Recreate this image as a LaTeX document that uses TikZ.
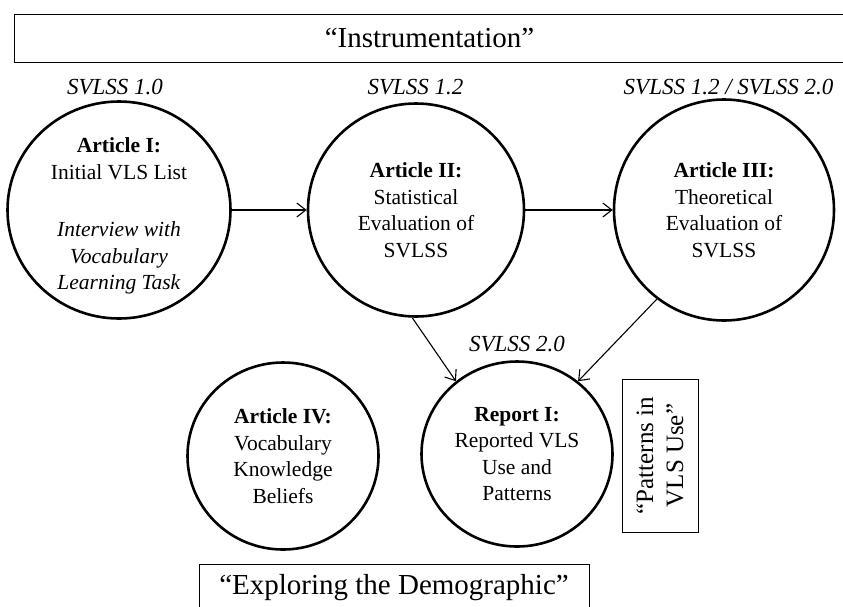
\documentclass[tikz,border=0pt]{standalone}
\usepackage{fontspec}
\setmainfont{Liberation Serif}
\usetikzlibrary{shapes.geometric,arrows.meta}
\begin{document}
\begin{tikzpicture}[x=1pt,y=-1pt,
  txt/.style={inner sep=0pt,align=center,font=\fontsize{21.5}{26.5}\selectfont},
  circ/.style={ellipse,draw,line width=2.6pt,txt},
  ver/.style={font=\fontsize{23}{28}\selectfont\itshape,anchor=base,inner sep=0pt},
  hdr/.style={draw,line width=1pt,inner sep=0pt,font=\fontsize{29}{34}\selectfont},
  arr/.style={-{Straight Barb[length=9pt,width=14pt]},line width=1.1pt}]
\useasboundingbox (0,0) rectangle (843,606);
\node[hdr, minimum width=831pt, minimum height=48pt] (instr) at (429.5,38) {“Instrumentation”};
\node[ver] (v1) at (115,94) {SVLSS 1.0};
\node[ver] (v2) at (415.5,94) {SVLSS 1.2};
\node[ver] (v3) at (728.5,94) {SVLSS 1.2 / SVLSS 2.0};
\node[ver] (v5) at (517,351) {SVLSS 2.0};
\node[circ, minimum width=223pt, minimum height=217pt] (c1) at (119,210) {};
\node[txt] (c1t) at (119,216) {\textbf{Article I:}\\Initial VLS List\\[31pt]\textit{Interview with}\\\textit{Vocabulary}\\\textit{Learning Task}};
\node[circ, minimum width=216pt, minimum height=213pt] (c2) at (416,210) {\textbf{Article II:}\\Statistical\\Evaluation of\\SVLSS};
\node[circ, minimum width=220pt, minimum height=221pt] (c3) at (724,210) {\textbf{Article III:}\\Theoretical\\Evaluation of\\SVLSS};
\node[circ, minimum width=191pt, minimum height=187pt] (c4) at (283,456) {\textbf{Article IV:}\\Vocabulary\\Knowledge\\Beliefs};
\node[circ, minimum width=191pt, minimum height=185pt] (c5) at (517,454) {\textbf{Report I:}\\Reported VLS\\Use and\\Patterns};
\node[draw, line width=1pt, rotate=90, minimum width=153pt, minimum height=76pt, inner sep=0pt, align=center, font=\fontsize{25}{30}\selectfont] (pat) at (660,455.5) {“Patterns in\\VLS Use”};
\node[hdr, anchor=north, minimum width=390pt, text height=26pt, text depth=34pt, inner ysep=4pt] (demo) at (394,564) {“Exploring the Demographic”};
\draw[arr] (c1.east) -- (c2.west);
\draw[arr] (c2.east) -- (c3.west);
\draw[arr] (c2.268) -- (c5.130);
\draw[arr] (c3.233) -- (c5.50);
\end{tikzpicture}
\end{document}
